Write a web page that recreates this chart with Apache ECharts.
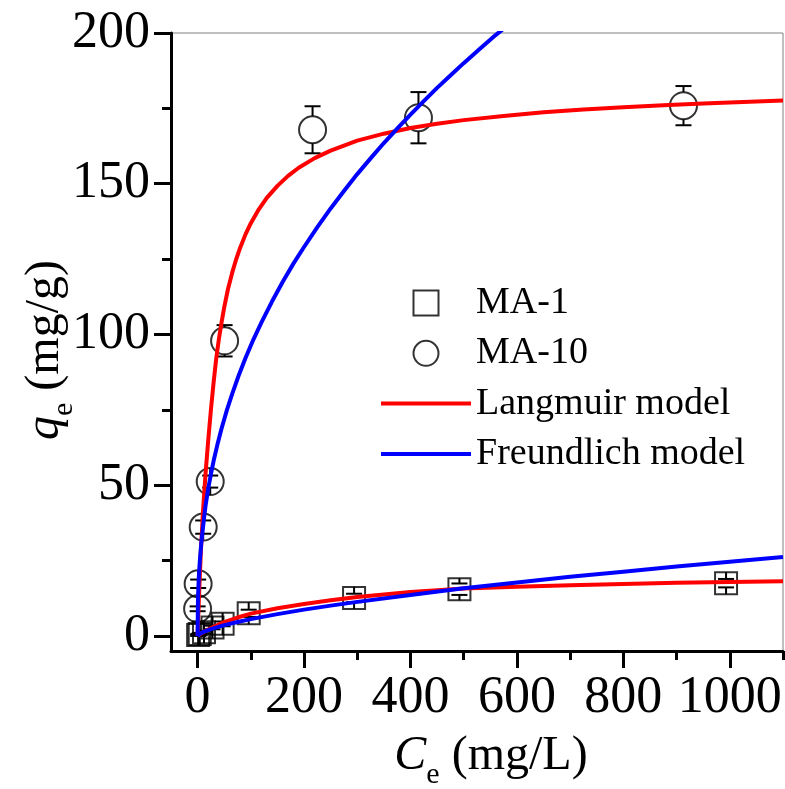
<!DOCTYPE html>
<html>
<head>
<meta charset="utf-8">
<script src="https://cdn.jsdelivr.net/npm/echarts@6/dist/echarts.min.js"></script>
<style>
html,body{margin:0;padding:0;background:#fff;}
#chart{width:785px;height:789px;}
</style>
</head>
<body>
<div id="chart"></div>
<script>
// ---- data ----
const ma1C   = [1, 4, 12, 28, 47, 96, 294, 492, 993];
const ma1Q   = [0.3, 0.6, 1.2, 2.8, 4.0, 7.5, 12.6, 15.5, 17.5];
const ma1Err = [0.3, 0.4, 0.5, 0.6, 0.8, 1.2, 1.4, 1.9, 1.4];

const ma10C   = [0, 1, 10.5, 23.7, 50.7, 216, 415, 913];
const ma10Q   = [9.0, 17.3, 36.1, 51.2, 97.9, 167.9, 171.9, 175.9];
const ma10Err = [0.8, 1.4, 2.2, 2.0, 5.2, 7.8, 8.5, 6.5];

const langMA10C = [0, 1, 3, 6, 10, 15, 20, 25, 30, 35, 40, 45, 50, 57, 65, 72, 80, 90, 100, 115, 130, 150, 170, 190, 220, 250, 300, 350, 400, 450, 500, 575, 650, 725, 800, 875, 950, 1025, 1100];
const langMA10Q = [0, 5.3, 15, 27.5, 41, 54, 65, 75, 84, 92, 98.5, 104, 109, 115, 120.5, 124.7, 128.8, 133.2, 136.9, 141.5, 145.3, 149.3, 152.6, 155.3, 158.5, 161, 164.3, 166.6, 168.5, 169.9, 171.1, 172.5, 173.7, 174.6, 175.4, 176, 176.6, 177.1, 177.6];

const freuMA10C = [0, 0.5, 1, 2, 4, 7, 12, 15, 20, 25, 30, 37, 45, 55, 65, 77, 90, 105, 120, 140, 160, 180, 200, 225, 250, 275, 300, 325, 350, 375, 400, 425, 450, 475, 500, 530, 560, 600];
const freuMA10Q = [0, 10, 14, 18.5, 24.5, 31, 39, 43.3, 48.9, 53.7, 58, 63.3, 68.8, 74.9, 80.3, 86.3, 92.2, 98.4, 104, 111, 117.5, 123.5, 129, 135.6, 141.8, 147.6, 153.2, 158.4, 163.5, 168.3, 172.9, 177.4, 181.8, 185.9, 190, 194.7, 199.3, 205];

const langMA1C = [0, 5, 10, 25, 50, 75, 100, 150, 200, 250, 300, 400, 500, 600, 700, 800, 900, 1000, 1100];
const langMA1Q = [0, 0.6, 1.2, 2.6, 4.6, 6.1, 7.4, 9.2, 10.6, 11.8, 12.9, 14.6, 15.7, 16.3, 16.8, 17.2, 17.6, 17.9, 18.1];

const freuMA1C = [0, 5, 10, 25, 50, 75, 100, 150, 200, 250, 300, 400, 500, 600, 700, 800, 900, 1000, 1100];
const freuMA1Q = [0, 0.8, 1.26, 2.28, 3.57, 4.63, 5.58, 7.24, 8.72, 10.05, 11.3, 13.6, 15.8, 17.7, 19.6, 21.3, 23.0, 24.6, 26.2];

const xTicks      = [0, 200, 400, 600, 800, 1000];
const xMinorTicks = [100, 300, 500, 700, 900, 1100];
const yTicks      = [0, 50, 100, 150, 200];
const yMinorTicks = [25, 75, 125, 175];

// ---- helpers ----
const zip = (a, b) => a.map((v, i) => [v, b[i]]);
const FONT = 'Liberation Serif';

function errRender(half) {
  return function (params, api) {
    const x = api.value(0), q = api.value(1), e = api.value(2);
    const c = api.coord([x, q]);
    const top = api.coord([x, q + e])[1];
    const bot = api.coord([x, q - e])[1];
    const cap = 8;
    const st = { stroke: '#000', lineWidth: 2 };
    return {
      type: 'group',
      children: [
        { type: 'line', shape: { x1: c[0], y1: c[1] - half, x2: c[0], y2: top }, style: st },
        { type: 'line', shape: { x1: c[0], y1: c[1] + half, x2: c[0], y2: bot }, style: st },
        { type: 'line', shape: { x1: c[0] - cap, y1: top, x2: c[0] + cap, y2: top }, style: st },
        { type: 'line', shape: { x1: c[0] - cap, y1: bot, x2: c[0] + cap, y2: bot }, style: st }
      ]
    };
  };
}

const chart = echarts.init(document.getElementById('chart'), null, { renderer: 'canvas' });

const axisLineStyle = { color: '#000', width: 3 };
const lineSeries = (name, data, color) => ({
  name, type: 'line', data, showSymbol: false, symbol: 'none',
  smooth: false, clip: true, z: 5,
  lineStyle: { color, width: 4, join: 'round' }, itemStyle: { color }
});
const plainNum = v => String(v);

const option = {
  backgroundColor: '#fff',
  animation: false,
  textStyle: { fontFamily: FONT },
  grid: { left: 171, top: 33, right: 2, bottom: 138, show: true, borderColor: '#808080', borderWidth: 1, backgroundColor: 'transparent' },
  xAxis: [
    {
      type: 'value', min: -50, max: 1100, position: 'bottom',
      axisLine: { show: true, onZero: false, lineStyle: axisLineStyle },
      axisTick: { show: true, inside: false, length: 17, customValues: xTicks, lineStyle: { color: '#000', width: 3 } },
      axisLabel: { show: true, customValues: xTicks, formatter: plainNum, margin: 21, color: '#000', fontSize: 52, fontFamily: FONT },
      splitLine: { show: false }
    },
    {
      type: 'value', min: -50, max: 1100, position: 'bottom',
      axisLine: { show: false, onZero: false },
      axisTick: { show: true, inside: false, length: 9, customValues: xMinorTicks, lineStyle: { color: '#000', width: 3 } },
      axisLabel: { show: false },
      splitLine: { show: false }
    }
  ],
  yAxis: [
    {
      type: 'value', min: -5, max: 200, position: 'left',
      axisLine: { show: true, onZero: false, lineStyle: axisLineStyle },
      axisTick: { show: true, inside: false, length: 17, customValues: yTicks, lineStyle: { color: '#000', width: 3 } },
      axisLabel: { show: true, customValues: yTicks, formatter: plainNum, margin: 21, color: '#000', fontSize: 52, fontFamily: FONT },
      splitLine: { show: false }
    },
    {
      type: 'value', min: -5, max: 200, position: 'left',
      axisLine: { show: false, onZero: false },
      axisTick: { show: true, inside: false, length: 9, customValues: yMinorTicks, lineStyle: { color: '#000', width: 3 } },
      axisLabel: { show: false },
      splitLine: { show: false }
    }
  ],
  legend: {
    orient: 'vertical', left: 376, top: 279,
    itemWidth: 90, itemHeight: 25, itemGap: 12.3,
    symbolKeepAspect: true,
    data: [
      { name: 'MA-1', icon: 'path://M0 0H10V10H0Z' },
      { name: 'MA-10', icon: 'circle' },
      { name: 'Langmuir model', icon: 'path://M0 0H90V4H0Z', itemStyle: { color: '#ff0000', borderWidth: 0 } },
      { name: 'Freundlich model', icon: 'path://M0 0H90V4H0Z', itemStyle: { color: '#0000ff', borderWidth: 0 } }
    ],
    textStyle: { color: '#000', fontSize: 38, fontFamily: FONT, lineHeight: 37 }
  },
  graphic: [
    {
      type: 'text', x: 491, y: 756,
      style: {
        text: '{c|C}{e|e}{n| (mg/L)}',
        align: 'center', verticalAlign: 'middle',
        rich: {
          c: { fontFamily: FONT, fontSize: 48, fontStyle: 'italic', fill: '#000' },
          e: { fontFamily: FONT, fontSize: 30, fill: '#000', verticalAlign: 'bottom', padding: [0, 0, -10, 0] },
          n: { fontFamily: FONT, fontSize: 48, fill: '#000' }
        }
      }
    },
    {
      type: 'text', x: 45, y: 350, rotation: Math.PI / 2,
      style: {
        text: '{c|q}{e|e}{n| (mg/g)}',
        align: 'center', verticalAlign: 'middle',
        rich: {
          c: { fontFamily: FONT, fontSize: 48, fontStyle: 'italic', fill: '#000' },
          e: { fontFamily: FONT, fontSize: 30, fill: '#000', verticalAlign: 'bottom', padding: [0, 0, -10, 0] },
          n: { fontFamily: FONT, fontSize: 48, fill: '#000' }
        }
      }
    }
  ],
  series: [
    {
      name: 'MA-1', type: 'scatter', data: zip(ma1C, ma1Q), symbol: 'rect', symbolSize: 22, z: 2,
      itemStyle: { color: 'rgba(255,255,255,0)', borderColor: '#000', borderWidth: 2 }
    },
    {
      name: 'MA-10', type: 'scatter', data: zip(ma10C, ma10Q), symbol: 'circle', symbolSize: 27, z: 2,
      itemStyle: { color: 'rgba(255,255,255,0)', borderColor: '#000', borderWidth: 2 }
    },
    {
      type: 'custom', renderItem: errRender(11), clip: true, z: 3, silent: true,
      data: ma1C.map((c, i) => [c, ma1Q[i], ma1Err[i]])
    },
    {
      type: 'custom', renderItem: errRender(13.5), clip: true, z: 3, silent: true,
      data: ma10C.map((c, i) => [c, ma10Q[i], ma10Err[i]])
    },
    lineSeries('Langmuir model', zip(langMA10C, langMA10Q), '#ff0000'),
    lineSeries('Freundlich model', zip(freuMA10C, freuMA10Q), '#0000ff'),
    lineSeries('Langmuir model', zip(langMA1C, langMA1Q), '#ff0000'),
    lineSeries('Freundlich model', zip(freuMA1C, freuMA1Q), '#0000ff')
  ]
};
chart.setOption(option);
</script>
</body>
</html>
